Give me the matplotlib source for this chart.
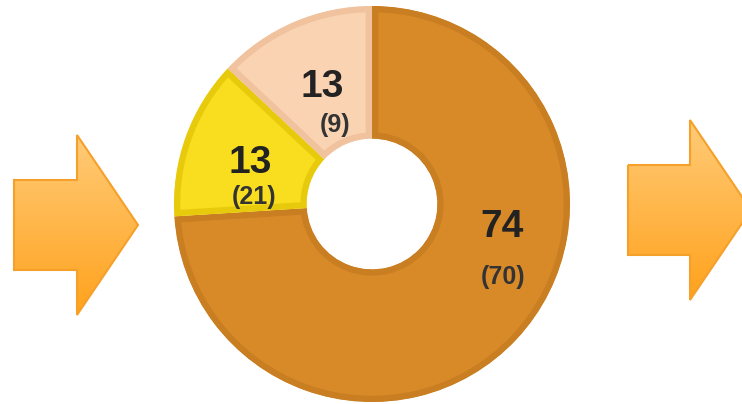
import numpy as np
import matplotlib.pyplot as plt
from matplotlib.patches import Polygon, Wedge
from matplotlib.colors import LinearSegmentedColormap

# current shares (big numbers) and previous values (in brackets)
shares = [74, 13, 13]
previous = [70, 21, 9]
colors = ['#D98A28', '#F8DE1E', '#FAD3B2']
bevels = ['#C97E22', '#E8CA0C', '#F0C29E']

# label offsets from the ring centre, in pixels (x right, y up)
big_pos = [(130, -23), (-122, 41), (-50, 117)]
small_pos = [(131, -73), (-118, 7), (-37, 79)]

W, H = 742, 404
fig = plt.figure(figsize=(W / 100, H / 100), dpi=100)
ax = fig.add_axes([0, 0, 1, 1])

cx, cy, R = 372, 200, 198
wedges, _ = ax.pie(shares, colors=colors, startangle=90, counterclock=False,
                   radius=R, center=(cx, cy),
                   wedgeprops=dict(width=R * 0.67))

# fake bevel: thick edge stroke clipped to a copy of the wedge
# (pie makes its wedges with clip_on=False, so switch it back on)
for w, bc in zip(wedges, bevels):
    clip = Wedge(w.center, w.r, w.theta1, w.theta2, width=w.width,
                 transform=ax.transData)
    w.set_edgecolor(bc)
    w.set_linewidth(9)
    w.set_joinstyle('miter')
    w.set_clip_on(True)
    w.set_clip_path(clip)

plt.rcParams['font.family'] = ['Liberation Sans', 'DejaVu Sans']
for s, p, (bx, by), (sx, sy) in zip(shares, previous, big_pos, small_pos):
    ax.text(cx + bx, cy + by, str(s), ha='center', va='center',
            fontsize=28, fontweight='bold', color='#222222')
    ax.text(cx + sx, cy + sy, f'({p})', ha='center', va='center',
            fontsize=18, fontweight='bold', color='#333333')

# gradient arrows on both sides
cmap = LinearSegmentedColormap.from_list('arr', ['#FFA21C', '#FFCB78'])
arrows = [
    [(14, 180), (77, 180), (77, 135), (138, 225), (77, 315), (77, 270), (14, 270)],
    [(628, 165), (690, 165), (690, 120), (751, 210), (690, 300), (690, 255), (628, 255)],
]
for pts in arrows:
    pts = [(x, H - y) for x, y in pts]
    poly = Polygon(pts, closed=True, facecolor='none', edgecolor='#F5A02A',
                   linewidth=1.5, zorder=3)
    ax.add_patch(poly)
    xs = [p[0] for p in pts]
    ys = [p[1] for p in pts]
    grad = np.linspace(0, 1, 256).reshape(-1, 1)
    im = ax.imshow(grad, cmap=cmap, origin='lower', aspect='auto',
                   extent=(min(xs), max(xs), min(ys), max(ys)), zorder=2)
    im.set_clip_path(poly)

ax.set_xlim(0, W)
ax.set_ylim(0, H)
ax.set_aspect('auto')
ax.axis('off')

fig.savefig('out.png', dpi=100)
